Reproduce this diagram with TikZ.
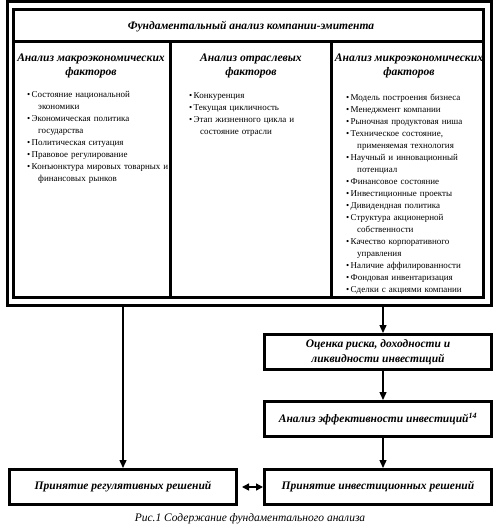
\documentclass[tikz,border=0pt]{standalone}
\usepackage{fontspec}
\setmainfont{Liberation Serif}
\usetikzlibrary{arrows.meta,positioning}

% bullet item with hanging indent
\newcommand\itm[1]{\hangindent=11pt\hangafter=1\noindent\makebox[4.5pt][l]{\textbullet}#1\par}

\begin{document}
\begin{tikzpicture}[x=1pt, y=-1pt,
    every node/.style={inner sep=0pt},
    frame/.style={draw, line width=3pt},
    title/.style={font=\fontsize{11.5}{13}\selectfont\bfseries\itshape},
    head/.style={align=center, font=\fontsize{11.6}{14}\selectfont\bfseries\itshape},
    items/.style={anchor=north west, text width=#1, align=left,
        font=\fontsize{9}{12}\selectfont},
    box/.style={draw, line width=3pt, minimum width=227pt, minimum height=35pt,
        align=center, font=\fontsize{11.5}{15}\selectfont\bfseries\itshape},
    arr/.style={line width=1.4pt, -{Triangle[length=8pt,width=7pt]}},
]
\useasboundingbox (0,0) rectangle (496,529);

% main frame
\node[frame, minimum width=484pt, minimum height=303.5pt] (outer) at (249.5,153.25) {};
\node[frame, minimum width=469.5pt, minimum height=287.5pt] (inner) at (248.25,153.75) {};
\draw[frame] (13.5,41.5) -- (483,41.5);
\draw[frame] (170.5,41.5) -- (170.5,297.5);
\draw[frame] (331.5,41.5) -- (331.5,297.5);

\node[title] (main) at (251,27) {Фундаментальный анализ компании-эмитента};

% columns
\node[head] (macro) at (91,66) {Анализ макроэкономических\\факторов};
\node[head] (branch) at (251,66) {Анализ отраслевых\\факторов};
\node[head] (micro) at (409,66) {Анализ микроэкономических\\факторов};

\node[items=152pt] (macrolist) at (27,91) {%
  \itm{Состояние национальной\newline экономики}
  \itm{Экономическая политика\newline государства}
  \itm{Политическая ситуация}
  \itm{Правовое регулирование}
  \itm{Конъюнктура мировых товарных и\newline финансовых рынков}};
\node[items=125pt] (branchlist) at (189,92) {%
  \itm{Конкуренция}
  \itm{Текущая цикличность}
  \itm{Этап жизненного цикла и\newline состояние отрасли}};
\node[items=140pt] (microlist) at (346,93.5) {%
  \itm{Модель построения бизнеса}
  \itm{Менеджмент компании}
  \itm{Рыночная продуктовая ниша}
  \itm{Техническое состояние,\newline применяемая технология}
  \itm{Научный и инновационный\newline потенциал}
  \itm{Финансовое состояние}
  \itm{Инвестиционные проекты}
  \itm{Дивидендная политика}
  \itm{Структура акционерной\newline собственности}
  \itm{Качество корпоративного\newline управления}
  \itm{Наличие аффилированности}
  \itm{Фондовая инвентаризация}
  \itm{Сделки с акциями компании}};

% decision chain
\node[box] (risk) at (378,352) {Оценка риска, доходности и\\ликвидности инвестиций};
\node[box, below=29pt of risk] (eff) {Анализ эффективности инвестиций\textsuperscript{14}};
\node[box, below=30pt of eff] (invest) {Принятие инвестиционных решений};
\node[box, left=25pt of invest] (regul) {Принятие регулятивных решений};

\draw[arr] ([xshift=5pt]risk.north |- outer.south) -- ([xshift=5pt]risk.north);
\draw[arr] ([xshift=5pt]eff.north |- risk.south) -- ([xshift=5pt]eff.north);
\draw[arr] ([xshift=5pt]invest.north |- eff.south) -- ([xshift=5pt]invest.north);
\draw[arr] (regul.north |- outer.south) -- (regul.north);
\draw[line width=1.4pt, {Triangle[length=7pt,width=7pt]}-{Triangle[length=7pt,width=7pt]}, shorten <=4pt]
    (regul.east) -- (invest.west);

\node[font=\fontsize{11.5}{13}\selectfont\itshape] (caption) at (250,519)
    {Рис.1 Содержание фундаментального анализа};
\end{tikzpicture}
\end{document}
